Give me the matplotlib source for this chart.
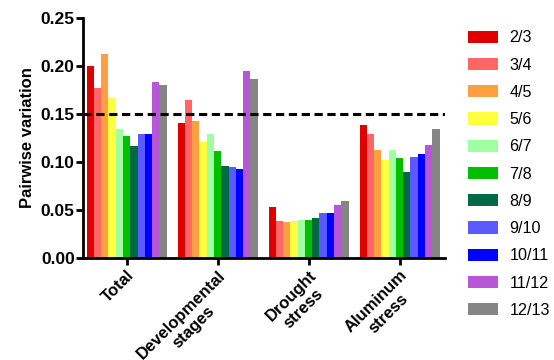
import numpy as np
import matplotlib
matplotlib.use("Agg")
import matplotlib.pyplot as plt

categories = ["Total", "Developmental\nstages", "Drought\nstress", "Aluminum\nstress"]
series_labels = ["2/3", "3/4", "4/5", "5/6", "6/7", "7/8", "8/9", "9/10", "10/11", "11/12", "12/13"]
colors = ["#E00000", "#FF6666", "#FFA040", "#FFFF40", "#A0FFA0", "#00C000",
          "#006A45", "#5A5AFF", "#0000FF", "#B856D8", "#858585"]

total = [0.200, 0.177, 0.213, 0.167, 0.134, 0.127, 0.117, 0.129, 0.129, 0.183, 0.180]
developmental = [0.141, 0.165, 0.143, 0.121, 0.129, 0.111, 0.096, 0.095, 0.093, 0.195, 0.186]
drought = [0.053, 0.039, 0.037, 0.039, 0.040, 0.040, 0.042, 0.047, 0.047, 0.055, 0.059]
aluminum = [0.139, 0.129, 0.112, 0.102, 0.113, 0.104, 0.090, 0.105, 0.108, 0.118, 0.134]

yticks = [0.00, 0.05, 0.10, 0.15, 0.20, 0.25]
threshold = 0.15

data = np.array([total, developmental, drought, aluminum])

plt.rcParams['font.family'] = ['Liberation Sans', 'DejaVu Sans']
fig = plt.figure(figsize=(5.54, 3.6), dpi=100)
ax = fig.add_axes([83/554, 1 - 258/360, (445 - 83)/554, (258 - 18)/360])

n = len(series_labels)
bw = 0.08
x = np.arange(len(categories))
for i in range(n):
    ax.bar(x + (i - (n - 1) / 2) * bw, data[:, i], width=bw, color=colors[i],
           label=series_labels[i], linewidth=0)

ax.axhline(threshold, color="black", linestyle=(0, (2.7, 1.5)), linewidth=2.2, zorder=5)

ax.set_xlim(-0.48, 3.5)
ax.set_ylim(0, 0.25)
ax.set_yticks(yticks)
ax.set_yticklabels([f"{v:.2f}" for v in yticks], fontsize=12.5, fontweight='bold')
ax.set_xticks(x)
ax.set_xticklabels(categories, rotation=45, ha='right', va='top', rotation_mode='anchor',
                   multialignment='center', fontsize=12, fontweight='bold')
ax.set_ylabel("Pairwise variation", fontsize=12, fontweight='bold', labelpad=4)

for s in ['top', 'right']:
    ax.spines[s].set_visible(False)
for s in ['left', 'bottom']:
    ax.spines[s].set_linewidth(2)
ax.tick_params(axis='both', width=2, length=5, direction='out')
ax.tick_params(axis='y', pad=1)
ax.tick_params(axis='x', pad=2)

leg = ax.legend(loc='upper left', bbox_to_anchor=(1.045, 0.975), frameon=False,
                fontsize=11.6, handlelength=1.85, handleheight=0.8,
                labelspacing=0.76, handletextpad=0.75, borderaxespad=0)

fig.savefig("out.png", dpi=100)
